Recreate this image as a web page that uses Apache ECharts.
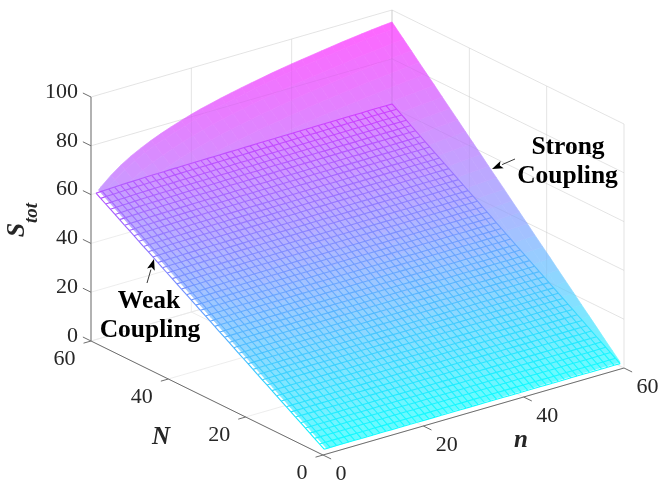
<!DOCTYPE html>
<html><head><meta charset="utf-8">
<style>html,body{margin:0;padding:0;background:#fff}#c{width:661px;height:481px}</style>
<script src="https://cdn.jsdelivr.net/npm/echarts@6/dist/echarts.min.js"></script>
</head><body><div id="c"></div>
<script>
// ---- values ----
const nTicks=[0,20,40,60];
const NTicks=[0,20,40,60];
const STicks=[0,20,40,60,80,100];
// weak coupling surface: mesh nodes (same in n and N), height along N, slight rise along n
const meshNodes=[1,2.2,3.5,4.7,5.9,7.1,8.4,9.6,10.8,12.1,13.3,14.5,15.8,17,18.2,19.4,20.7,21.9,23.1,24.4,25.6,26.8,28,29.3,30.5,31.7,33,34.2,35.4,36.6,37.9,39.1,40.3,41.6,42.8,44,45.3,46.5,47.7,48.9,50.2,51.4,52.6,53.9,55.1,56.3,57.5,58.8,60];
const weakByN=[1,2.2,3.5,4.7,5.9,7.1,8.4,9.6,10.8,12.1,13.3,14.5,15.8,17,18.2,19.4,20.7,21.9,23.1,24.4,25.6,26.8,28,29.3,30.5,31.7,33,34.2,35.4,36.6,37.9,39.1,40.3,41.6,42.8,44,45.3,46.5,47.7,48.9,50.2,51.4,52.6,53.9,55.1,56.3,57.5,58.8,60];
const weakRiseByn=[1,1.002,1.004,1.005,1.007,1.008,1.009,1.01,1.011,1.012,1.012,1.013,1.014,1.014,1.015,1.015,1.016,1.016,1.017,1.017,1.017,1.018,1.018,1.018,1.019,1.019,1.02,1.02,1.02,1.021,1.021,1.021,1.022,1.022,1.022,1.022,1.023,1.023,1.023,1.023,1.024,1.024,1.024,1.024,1.025,1.025,1.025,1.025,1.025];
// strong coupling surface: nodes in n, height on the N=60 edge, and share of that height at each N node
const strongNodesN=[1.5,2,4,6,8,10,12,14,16,18,20,22,24,26,28,30,32,34,36,38,40,42,44,46,48,50,52,54,56,58,60];
const strongEdge=[61,62,65.6,68.6,71.1,73.2,75.1,76.8,78.3,79.7,81,82.2,83.2,84.2,85.1,86,86.8,87.6,88.4,89.1,89.8,90.4,91,91.6,92.2,92.8,93.3,93.8,94.3,94.7,95.1];
const strongNodesNN=[1,3,5,7,9,11,13,15,17,19,21,23,25,27,29,31,33,35,37,39,41,43,45,47,49,51,53,55,57,59,60];
const strongShare=[.017,.05,.083,.117,.15,.183,.217,.25,.283,.317,.35,.383,.417,.45,.483,.517,.55,.583,.617,.65,.683,.717,.75,.783,.817,.85,.883,.917,.95,.983,1];

// ---- projection frame (orthographic view of the 3-D box, in page pixels) ----
const VIEW={x0:323,y0:455,nx:301/60,ny:-87/60,Nx:-232/60,Ny:-114/60,k:2.44};
const P=(n,N,S)=>[VIEW.x0+n*VIEW.nx+N*VIEW.Nx, VIEW.y0+n*VIEW.ny+N*VIEW.Ny-S*VIEW.k];

const weak=(i,j)=>weakByN[j]*weakRiseByn[i];
const cool=t=>{t=Math.max(0,Math.min(1,t));return [255*t,255*(1-t),255];};
const mix=(a,b,w)=>[a[0]*w+b[0]*(1-w),a[1]*w+b[1]*(1-w),a[2]*w+b[2]*(1-w)];
const css=c=>`rgb(${c[0]|0},${c[1]|0},${c[2]|0})`;
const ALPHA=0.6, WHITE=[255,255,255], CMAX=95.1;
const strongColor=S=>mix(cool(S/CMAX),WHITE,ALPHA);

function edgeAt(n){ // reading between table nodes for the tint only
  if(n<=strongNodesN[0])return strongEdge[0];
  for(let i=1;i<strongNodesN.length;i++) if(n<=strongNodesN[i]){
    const f=(n-strongNodesN[i-1])/(strongNodesN[i]-strongNodesN[i-1]);
    return strongEdge[i-1]+f*(strongEdge[i]-strongEdge[i-1]);
  }
  return strongEdge[strongEdge.length-1];
}
// height of the strong sheet seen in the same pixel as a weak node (null when uncovered)
function strongOver(n,N,S){
  const dn=-VIEW.Nx, dN=VIEW.nx, f=-(VIEW.ny*dn+VIEW.Ny*dN);
  let lo=-8,hi=0;
  for(let it=0;it<14;it++){
    const d=(lo+hi)/2, a=n+d*dn/5, b=N+d*dN/5;
    const sv=edgeAt(a)*Math.max(b,0)/60;
    if(f*d/5+VIEW.k*(sv-S)>0) hi=d; else lo=d;
  }
  const d=(lo+hi)/2, a=n+d*dn/5, b=N+d*dN/5;
  if(a<strongNodesN[0]-0.01||b<0) return null;
  return edgeAt(a)*b/60;
}
function meshColor(n,N,S){
  const L=cool(S/61.5*0.72);
  const over=strongOver(n,N,S);
  if(over==null) return L;
  return mix(mix(cool(over/CMAX),L,ALPHA),strongColor(over),0.85);
}

// ---- layers ----
const wallLines=[];
STicks.forEach(s=>{wallLines.push([[0,60,s],[60,60,s]]);wallLines.push([[60,60,s],[60,0,s]]);});
nTicks.forEach(v=>{wallLines.push([[v,60,0],[v,60,100]]);wallLines.push([[v,0,0],[v,60,0]]);});
NTicks.forEach(v=>{wallLines.push([[60,v,0],[60,v,100]]);wallLines.push([[0,v,0],[60,v,0]]);});
// parts of the wall lines above the weak sheet, still seen through the strong sheet
const seenThrough=[];
STicks.filter(s=>s>60).forEach(s=>seenThrough.push([[0,60,s],[60,60,s]]));
STicks.filter(s=>s>0).forEach(s=>{seenThrough.push([[60,Math.min(60,s),s],[60,0,s]]);});
nTicks.filter(v=>v>0).forEach(v=>seenThrough.push([[v,60,60.5],[v,60,100]]));
NTicks.forEach(v=>seenThrough.push([[60,v,Math.max(v,1)*1.02],[60,v,100]]));

const lineSeries=(data,color,width,z)=>({type:'custom',coordinateSystem:'cartesian2d',silent:true,clip:false,z,progressive:0,animation:false,
  data:data.map((d,i)=>[i]),
  renderItem:(params,api)=>{const l=data[params.dataIndex];
    const a=api.coord(P(...l[0])),b=api.coord(P(...l[1]));
    return {type:'line',shape:{x1:a[0],y1:a[1],x2:b[0],y2:b[1]},style:{stroke:color,lineWidth:width,fill:null}};}});

const last=meshNodes.length-1;
const weakFace={type:'custom',coordinateSystem:'cartesian2d',silent:true,clip:false,z:2,progressive:0,animation:false,data:[[0]],
  renderItem:(p,api)=>{const c=[[0,0],[last,0],[last,last],[0,last]].map(([i,j])=>api.coord(P(meshNodes[i],meshNodes[j],weak(i,j))));
    return {type:'polygon',shape:{points:c},style:{fill:'#fff'}};}};

const strongCells=[];
for(let i=0;i<strongNodesN.length-1;i++)for(let j=0;j<strongNodesNN.length-1;j++)strongCells.push([i,j]);
const strongHeight=(i,j)=>strongEdge[i]*strongShare[j];
const strongSeries={type:'custom',coordinateSystem:'cartesian2d',silent:true,clip:false,z:3,progressive:0,animation:false,data:strongCells,
  renderItem:(p,api)=>{const [i,j]=strongCells[p.dataIndex];
    const q=[[i,j],[i+1,j],[i+1,j+1],[i,j+1]];
    const pts=q.map(([a,b])=>api.coord(P(strongNodesN[a],strongNodesNN[b],strongHeight(a,b))));
    const avg=q.reduce((s,[a,b])=>s+strongHeight(a,b),0)/4;
    const col=css(strongColor(avg));
    return {type:'polygon',shape:{points:pts},style:{fill:col,stroke:col,lineWidth:0.7}};}};

const meshSegs=[];
for(let i=0;i<=last;i++)for(let j=0;j<=last;j++){
  if(i<last)meshSegs.push([i,j,i+1,j]);
  if(j<last)meshSegs.push([i,j,i,j+1]);
}
const meshSeries={type:'custom',coordinateSystem:'cartesian2d',silent:true,clip:false,z:5,progressive:0,animation:false,data:meshSegs,
  renderItem:(p,api)=>{const [a,b,c,d]=meshSegs[p.dataIndex];
    const A=P(meshNodes[a],meshNodes[b],weak(a,b)),B=P(meshNodes[c],meshNodes[d],weak(c,d));
    const u=api.coord(A),v=api.coord(B);
    const col=css(meshColor((meshNodes[a]+meshNodes[c])/2,(meshNodes[b]+meshNodes[d])/2,(weak(a,b)+weak(c,d))/2));
    return {type:'line',shape:{x1:u[0],y1:u[1],x2:v[0],y2:v[1]},style:{stroke:col,lineWidth:1.1,fill:null}};}};

// axes
const tickLen=1.75;
const axisLines=[[[0,60,0],[0,60,100]],[[0,0,0],[0,60,0]],[[0,0,0],[60,0,0]]];
STicks.forEach(s=>axisLines.push([[0,60,s],[0,60+tickLen*1.2,s]]));
NTicks.forEach(v=>axisLines.push([[0,v,0],[-tickLen*0.85,v,0]]));
nTicks.forEach(v=>axisLines.push([[v,0,0],[v,-tickLen*1.2,0]]));

const TICK_FONT={fontFamily:'Liberation Serif',fontSize:22,fill:'#262626'};
const texts=[];
STicks.forEach(s=>{const p=P(0,60,s);texts.push({t:String(s),p,dx:-13,dy:-5,align:'right',style:TICK_FONT});});
NTicks.forEach(v=>{const p=P(0,v,0);texts.push({t:String(v),p,dx:-15.5,dy:18,align:'right',style:TICK_FONT});});
nTicks.forEach(v=>{const p=P(v,0,0);texts.push({t:String(v),p,dx:12.5,dy:19,align:'left',style:TICK_FONT});});
const serifBI={fontFamily:'Liberation Serif',fontWeight:'bold',fontStyle:'italic',fill:'#262626'};
texts.push({t:'N',p:[161,438],align:'center',style:{...serifBI,fontSize:25}});
texts.push({t:'n',p:[521,441],align:'center',style:{...serifBI,fontSize:25}});
texts.push({t:'S',p:[17,230],align:'center',rot:Math.PI/2,style:{...serifBI,fontSize:26}});
texts.push({t:'tot',p:[32,213],align:'center',rot:Math.PI/2,style:{...serifBI,fontSize:19}});
const serifB={fontFamily:'Liberation Serif',fontWeight:'bold',fill:'#000',fontSize:25.5};
texts.push({t:'Strong',p:[568,147],align:'center',style:serifB});
texts.push({t:'Coupling',p:[567.5,176],align:'center',style:serifB});
texts.push({t:'Weak',p:[149,301],align:'center',style:serifB});
texts.push({t:'Coupling',p:[150,330],align:'center',style:serifB});

const textSeries={type:'custom',coordinateSystem:'cartesian2d',silent:true,clip:false,z:8,animation:false,data:texts.map((_,i)=>[i]),
  renderItem:(p,api)=>{const o=texts[p.dataIndex];
    const c=api.coord([o.p[0]+(o.dx||0),o.p[1]+(o.dy||0)]);
    return {type:'text',x:c[0],y:c[1],rotation:o.rot||0,
      style:{text:o.t,textAlign:o.align,textVerticalAlign:'middle',verticalAlign:'middle',...o.style}};}};

// callout arrows
const arrows=[{from:[515,159],to:[492,169]},{from:[147,283],to:[154,259]}];
const arrowSeries={type:'custom',coordinateSystem:'cartesian2d',silent:true,clip:false,z:8,animation:false,data:arrows.map((_,i)=>[i]),
  renderItem:(p,api)=>{const a=arrows[p.dataIndex];
    const f=api.coord(a.from),t=api.coord(a.to);
    const dx=f[0]-t[0],dy=f[1]-t[1],L=Math.hypot(dx,dy),ux=dx/L,uy=dy/L;
    const b=[t[0]+ux*11,t[1]+uy*11], w=4;
    return {type:'group',children:[
      {type:'line',shape:{x1:f[0],y1:f[1],x2:b[0],y2:b[1]},style:{stroke:'#222',lineWidth:0.9,fill:null}},
      {type:'polygon',shape:{points:[t,[b[0]-uy*w,b[1]+ux*w],[t[0]+ux*8.5,t[1]+uy*8.5],[b[0]+uy*w,b[1]-ux*w]]},style:{fill:'#000'}}
    ]};}};

const chart=echarts.init(document.getElementById('c'),null,{renderer:'canvas',width:661,height:481});
chart.setOption({
  animation:false,backgroundColor:'#fff',
  grid:{left:0,right:0,top:0,bottom:0},
  xAxis:{type:'value',min:0,max:661,show:false},
  yAxis:{type:'value',min:0,max:481,inverse:true,show:false},
  series:[
    lineSeries(wallLines,'#e8e8e8',0.8,1),
    weakFace,
    strongSeries,
    lineSeries(seenThrough,'rgba(0,0,0,0.05)',0.8,4),
    meshSeries,
    lineSeries(axisLines,'#6e6e6e',1,7),
    textSeries,
    arrowSeries
  ]
});
</script></body></html>
